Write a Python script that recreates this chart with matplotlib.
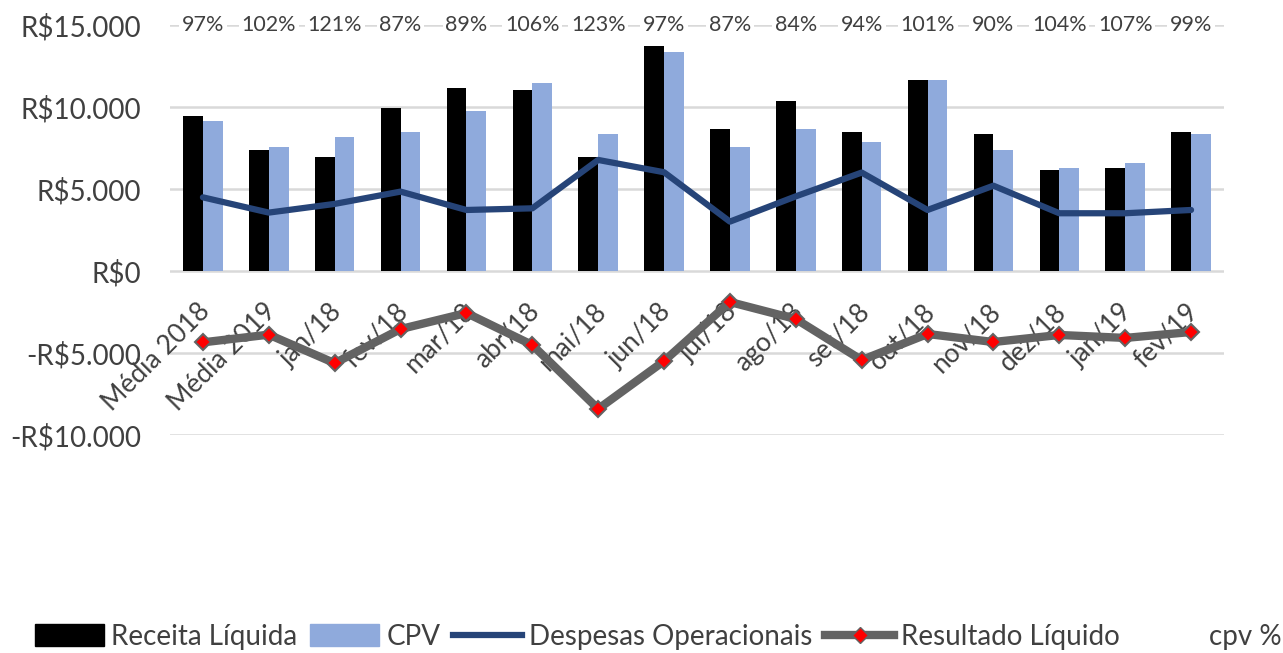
import matplotlib.pyplot as plt
from matplotlib.lines import Line2D
from matplotlib.patches import Patch
from matplotlib.ticker import FuncFormatter
import numpy as np

plt.rcParams['font.family'] = ['Lato', 'DejaVu Sans']

# Data (R$)
categorias = ['Média 2018', 'Média 2019', 'jan/18', 'fev/18', 'mar/18', 'abr/18',
              'mai/18', 'jun/18', 'jul/18', 'ago/18', 'set/18', 'out/18',
              'nov/18', 'dez/18', 'jan/19', 'fev/19']
receita = [9430, 7400, 6930, 9920, 11160, 11020, 6930, 13700,
           8660, 10390, 8500, 11650, 8330, 6140, 6300, 8500]
cpv = [9130, 7560, 8190, 8500, 9760, 11480, 8330, 13370,
       7560, 8660, 7870, 11650, 7400, 6300, 6610, 8330]
despesas = [4490, 3560, 4090, 4840, 3720, 3820, 6770, 6020,
            3010, 4550, 6000, 3720, 5200, 3520, 3520, 3720]
resultado = [-4350, -3880, -5620, -3540, -2560, -4510, -8410, -5490,
             -1890, -2930, -5430, -3840, -4330, -3900, -4080, -3720]
cpv_pct = ['97%', '102%', '121%', '87%', '89%', '106%', '123%', '97%',
           '87%', '84%', '94%', '101%', '90%', '104%', '107%', '99%']

txt = '#404040'
x = np.arange(len(categorias))
w = 0.3

fig = plt.figure(figsize=(12.83, 6.53), dpi=100)
ax = fig.add_axes([0.1325, 0.3338, 0.8215, 0.628])

ax.bar(x - w / 2, receita, w, color='black', zorder=2)
ax.bar(x + w / 2, cpv, w, color='#8FAADC', zorder=2)
ax.plot(x, despesas, color='#264478', lw=4.5, solid_capstyle='round',
        solid_joinstyle='round', zorder=4)
ax.plot(x, resultado, color='#636363', lw=6, marker='D', ms=8.5,
        mfc='red', mec='#636363', mew=1.5, solid_joinstyle='round', zorder=5)

ax.set_xlim(-0.5, len(categorias) - 0.5)
ax.set_ylim(-10000, 15000)
ax.set_yticks([-10000, -5000, 0, 5000, 10000, 15000])


def reais(v, pos):
    s = 'R$' + f'{abs(v):,.0f}'.replace(',', '.')
    return '-' + s if v < 0 else s


ax.yaxis.set_major_formatter(FuncFormatter(reais))
ax.tick_params(axis='y', length=0, labelsize=20, labelcolor=txt, pad=21)
ax.set_xticks([])
ax.grid(axis='y', color='#D9D9D9', lw=1.8, zorder=0)
ax.set_axisbelow(True)
for s in ax.spines.values():
    s.set_visible(False)

# category labels along the zero line
for i, c in enumerate(categorias):
    ax.annotate(c, (i, 0), xytext=(-4, -20), textcoords='offset points',
                rotation=45, ha='right', va='top', rotation_mode='anchor',
                fontsize=19, color=txt, zorder=3)

# cpv % labels on the top line
for i, p in enumerate(cpv_pct):
    ax.text(i, 15000, p, ha='center', va='center', fontsize=15.5, color=txt,
            bbox=dict(fc='white', ec='none', pad=2), zorder=6)

handles = [
    Patch(color='black', label='Receita Líquida'),
    Patch(color='#8FAADC', label='CPV'),
    Line2D([], [], color='#264478', lw=4.5, label='Despesas Operacionais'),
    Line2D([], [], color='#636363', lw=6, marker='D', ms=8.5, mfc='red',
           mec='#636363', label='Resultado Líquido'),
    Line2D([], [], color='none', label='cpv %'),
]
fig.legend(handles=handles, loc='center', bbox_to_anchor=(0.513, 0.025), ncol=5,
           frameon=False, fontsize=20, labelcolor=txt, handlelength=2.5,
           handleheight=0.8, handletextpad=0.25, columnspacing=0.45)

fig.savefig('out.png', dpi=100)
